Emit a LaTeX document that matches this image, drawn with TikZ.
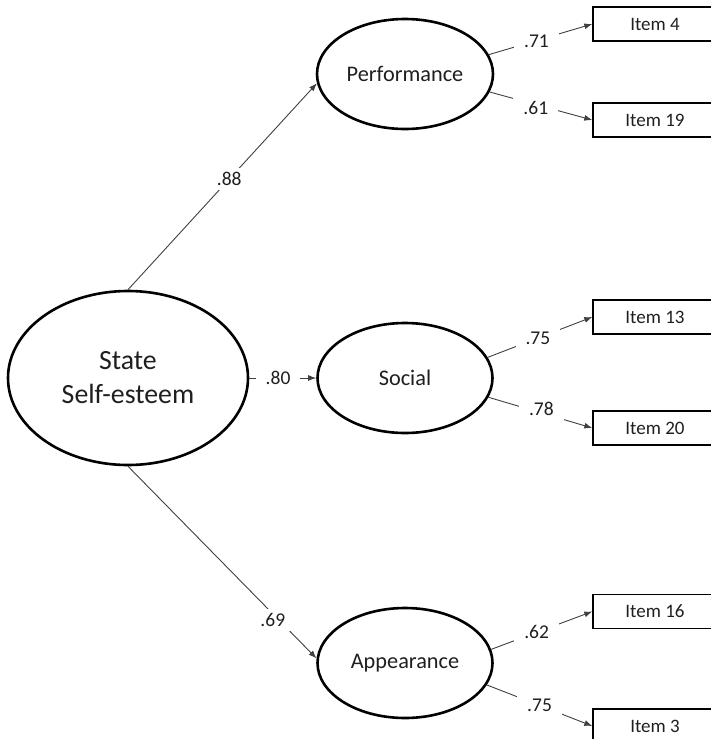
\documentclass[tikz,border=0pt]{standalone}
\usepackage{fontspec}
\setmainfont{Carlito}
\usetikzlibrary{shapes.geometric,arrows.meta}
\tikzset{
  lat/.style={ellipse, draw=black, line width=2.6pt, inner sep=0pt, text=black!88,
    font=\fontsize{22.3}{26}\selectfont},
  itembox/.style={rectangle, draw=black, line width=1.4pt, minimum width=124pt,
    minimum height=34pt, inner sep=0pt, text=black!88, font=\fontsize{19}{22}\selectfont},
  conn/.style={draw=black!75, line width=0.9pt, -{Latex[length=8pt,width=6pt]}},
  lbl/.style={fill=white, inner xsep=10pt, inner ysep=4pt, text=black!88,
    font=\fontsize{19.5}{22}\selectfont}
}
\begin{document}
\begin{tikzpicture}[x=1pt,y=-1pt]
\useasboundingbox (0,0) rectangle (711,739);
\clip (0,0) rectangle (711,739);
% latent variables
\node[lat, minimum width=240pt, minimum height=174pt, align=center,
  font=\fontsize{27.8}{34}\selectfont] (sse) at (128,378) {State\\Self-esteem};
\node[lat, minimum width=176pt, minimum height=110pt] (perf) at (405,74) {Performance};
\node[lat, minimum width=175pt, minimum height=110pt] (soc) at (405,378) {Social};
\node[lat, minimum width=175pt, minimum height=110pt] (app) at (405,663) {Appearance};
% items
\node[itembox] (i4) at (655,24) {Item 4};
\node[itembox] (i19) at (655,120) {Item 19};
\node[itembox] (i13) at (655,317) {Item 13};
\node[itembox] (i20) at (655,428) {Item 20};
\node[itembox] (i16) at (655,611.5) {Item 16};
\node[itembox] (i3) at (655,726) {Item 3};
% structural paths
\draw[conn] (sse.north) -- node[lbl, pos=0.536] {.88} (perf.186);
\draw[conn] (sse.east) -- node[lbl, pos=0.43] {.80} (soc.west);
\draw[conn] (sse.south) -- node[lbl, pos=0.8, xshift=-6pt] {.69} (app.177);
% loadings
\draw[conn] (perf.13) -- node[lbl, pos=0.46, yshift=-1pt] {.71} (i4.west);
\draw[conn] (perf.-12) -- node[lbl, pos=0.45, yshift=-3pt] {.61} (i19.west);
\draw[conn] (soc.14) -- node[lbl, pos=0.48] {.75} (i13.west);
\draw[conn] (soc.-13) -- node[lbl, pos=0.51, yshift=4pt] {.78} (i20.west);
\draw[conn] (app.9) -- node[lbl, pos=0.45] {.62} (i16.west);
\draw[conn] (app.-15) -- node[lbl, pos=0.5] {.75} (i3.west);
\end{tikzpicture}
\end{document}
